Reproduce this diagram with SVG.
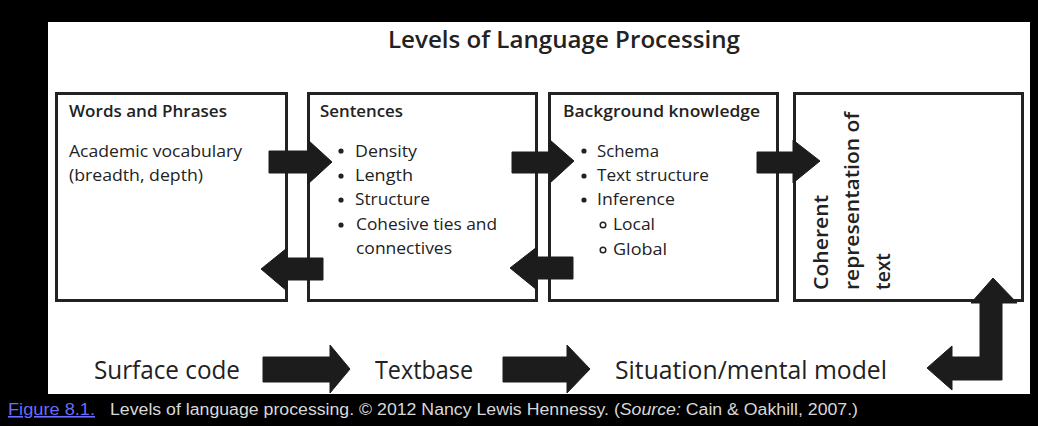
<svg xmlns="http://www.w3.org/2000/svg" width="1038" height="426" viewBox="0 0 1038 426">
<style>
  .box{fill:#fff;stroke:#222;stroke-width:3}
  .arr{fill:#1c1c1c;stroke:#1c1c1c;stroke-width:1;stroke-linejoin:miter}
  .t{font-family:"Open Sans","Liberation Sans",sans-serif;fill:#222}
  .h{font-size:15.5px;font-weight:600}
  .b{font-size:16px}
  .v{font-size:19px;font-weight:600}
  .big{font-size:25px}
  .cap{font-family:"Liberation Sans",Arial,sans-serif;font-size:16px;fill:#d8d8d8}
  .dot{fill:#222}
  .ring{fill:none;stroke:#222;stroke-width:1.5}
</style>
<rect x="0" y="0" width="1038" height="426" fill="#000"/>
<rect x="48" y="22" width="982" height="372" fill="#fff"/>
<text class="t" x="564" y="48" text-anchor="middle" font-size="24" font-weight="600" textLength="352" lengthAdjust="spacingAndGlyphs">Levels of Language Processing</text>

<g id="node-words">
  <rect class="box" x="56.5" y="93.5" width="230" height="207"/>
  <text class="t h" x="69" y="117" textLength="158" lengthAdjust="spacingAndGlyphs">Words and Phrases</text>
  <text class="t b" x="69" y="157" textLength="173" lengthAdjust="spacingAndGlyphs">Academic vocabulary</text>
  <text class="t b" x="69" y="181" textLength="134" lengthAdjust="spacingAndGlyphs">(breadth, depth)</text>
</g>

<g id="node-sentences">
  <rect class="box" x="308.5" y="93.5" width="228" height="207"/>
  <text class="t h" x="320" y="117" textLength="83" lengthAdjust="spacingAndGlyphs">Sentences</text>
  <circle class="dot" cx="341" cy="151" r="2.6"/>
  <circle class="dot" cx="341" cy="176" r="2.6"/>
  <circle class="dot" cx="341" cy="200" r="2.6"/>
  <circle class="dot" cx="341" cy="225" r="2.6"/>
  <text class="t b" x="355" y="157" textLength="62" lengthAdjust="spacingAndGlyphs">Density</text>
  <text class="t b" x="355" y="181" textLength="58" lengthAdjust="spacingAndGlyphs">Length</text>
  <text class="t b" x="355" y="205" textLength="75" lengthAdjust="spacingAndGlyphs">Structure</text>
  <text class="t b" x="356" y="230" textLength="141" lengthAdjust="spacingAndGlyphs">Cohesive ties and</text>
  <text class="t b" x="356" y="254" textLength="96" lengthAdjust="spacingAndGlyphs">connectives</text>
</g>

<g id="node-background">
  <rect class="box" x="549.5" y="93.5" width="228" height="207"/>
  <text class="t h" x="563" y="117" textLength="197" lengthAdjust="spacingAndGlyphs">Background knowledge</text>
  <circle class="dot" cx="584" cy="151" r="2.6"/>
  <circle class="dot" cx="584" cy="176" r="2.6"/>
  <circle class="dot" cx="584" cy="200" r="2.6"/>
  <circle class="ring" cx="603" cy="225" r="2.8"/>
  <circle class="ring" cx="603" cy="250" r="2.8"/>
  <text class="t b" x="597" y="157" textLength="62" lengthAdjust="spacingAndGlyphs">Schema</text>
  <text class="t b" x="597" y="181" textLength="112" lengthAdjust="spacingAndGlyphs">Text structure</text>
  <text class="t b" x="597" y="205" textLength="78" lengthAdjust="spacingAndGlyphs">Inference</text>
  <text class="t b" x="613" y="230" textLength="42" lengthAdjust="spacingAndGlyphs">Local</text>
  <text class="t b" x="613" y="255" textLength="54" lengthAdjust="spacingAndGlyphs">Global</text>
</g>

<g id="node-coherent">
  <rect class="box" x="794.5" y="93.5" width="228" height="207"/>
  <text class="t v" transform="translate(828,290) rotate(-90)" textLength="95" lengthAdjust="spacingAndGlyphs">Coherent</text>
  <text class="t v" transform="translate(859,290) rotate(-90)" textLength="178" lengthAdjust="spacingAndGlyphs">representation of</text>
  <text class="t v" transform="translate(890,290) rotate(-90)" textLength="37" lengthAdjust="spacingAndGlyphs">text</text>
</g>

<g id="node-surface">
  <text class="t big" x="94" y="379" textLength="146" lengthAdjust="spacingAndGlyphs">Surface code</text>
</g>
<g id="node-textbase">
  <text class="t big" x="375" y="379" textLength="98" lengthAdjust="spacingAndGlyphs">Textbase</text>
</g>
<g id="node-situation">
  <text class="t big" x="615" y="379" textLength="272" lengthAdjust="spacingAndGlyphs">Situation/mental model</text>
</g>

<g id="connectors">
  <polygon class="arr" points="269,151 308,151 308,140 332,162 308,184 308,173 269,173"/>
  <polygon class="arr" points="323,258 287,258 287,248 261,269 287,291 287,280 323,280"/>
  <polygon class="arr" points="512,152 550,152 550,140 574,161 550,183 550,173 512,173"/>
  <polygon class="arr" points="573,257 537,257 537,247 510,268 537,290 537,279 573,279"/>
  <polygon class="arr" points="757,152 793,152 793,140 820,161 793,183 793,173 757,173"/>
  <polygon class="arr" points="263,357 330,357 330,345 350,369 330,393 330,382 263,382"/>
  <polygon class="arr" points="503,357 567,357 567,345 590,369 567,393 567,382 503,382"/>
  <polygon class="arr" points="993,278 1017,303 1002,303 1002,380 952,380 952,390 927,368 952,346 952,357 980,357 980,303 971,303"/>
</g>

<g id="caption">
  <text x="8" y="415" font-family="Liberation Sans, Arial, sans-serif" font-size="16" fill="#6b6bff" text-decoration="underline" textLength="87" lengthAdjust="spacingAndGlyphs">Figure 8.1.</text>
  <text class="cap" x="110" y="415" textLength="748" lengthAdjust="spacingAndGlyphs">Levels of language processing. © 2012 Nancy Lewis Hennessy. (<tspan font-style="italic">Source:</tspan> Cain &amp; Oakhill, 2007.)</text>
</g>
</svg>
